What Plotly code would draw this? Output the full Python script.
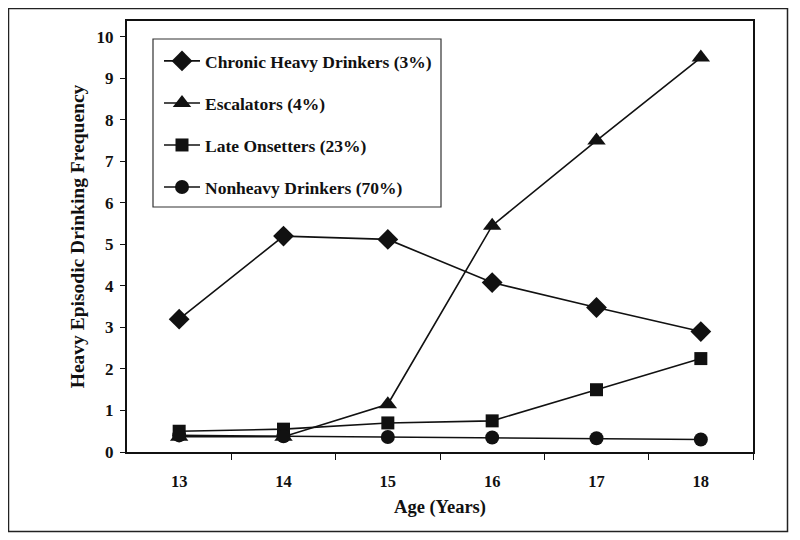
import plotly.graph_objects as go

ages = [13, 14, 15, 16, 17, 18]
chronic = [3.2, 5.2, 5.12, 4.08, 3.48, 2.9]
escalators = [0.37, 0.37, 1.15, 5.45, 7.5, 9.5]
late = [0.5, 0.55, 0.7, 0.75, 1.5, 2.25]
nonheavy = [0.4, 0.38, 0.36, 0.35, 0.33, 0.3]

names = ["Chronic Heavy Drinkers (3%)", "Escalators (4%)",
         "Late Onsetters (23%)", "Nonheavy Drinkers (70%)"]
series = [chronic, escalators, late, nonheavy]
symbols = ["diamond", "triangle-up", "square", "circle"]
sizes = [16, 16, 13, 14]

FONT = "Liberation Serif, Times New Roman, serif"
INK = "#111"

# page has an 8px body margin; figure is 792x532 placed at (8, 8)
W, H = 792, 532
L, R, T, B = 119, 47, 13, 88
PW, PH = W - L - R, H - T - B


def fx(px):  # page x -> paper fraction
    return (px - 8 - L) / PW


def fy(py):  # page y -> paper fraction
    return (H - B - (py - 8)) / PH


fig = go.Figure()
for i, (nm, ys, sym, sz) in enumerate(zip(names, series, symbols, sizes)):
    fig.add_trace(go.Scatter(
        x=ages, y=ys, name=nm, mode="lines+markers",
        line=dict(color=INK, width=1.6),
        marker=dict(symbol=sym, size=sz, color=INK),
        legendgroup=f"g{i}",
    ))

fig.update_layout(
    width=W, height=H,
    margin=dict(l=L, r=R, t=T, b=B, autoexpand=False),
    paper_bgcolor="white", plot_bgcolor="white",
    font=dict(family=FONT, size=16, color=INK, weight="bold"),
    showlegend=True,
    legend=dict(
        x=fx(159), y=fy(43), xanchor="left", yanchor="top",
        borderwidth=0, bgcolor="rgba(0,0,0,0)",
        tracegroupgap=16.3, font=dict(size=17.5, family=FONT, weight="bold"),
        itemwidth=36,
    ),
    xaxis=dict(
        range=[12.5, 18.5], tickvals=ages, ticks="",
        showline=True, linecolor=INK, linewidth=2, mirror=True,
        showgrid=False, zeroline=False,
        minor=dict(tickvals=[13.5, 14.5, 15.5, 16.5, 17.5, 18.5],
                   ticks="outside", ticklen=6, tickcolor=INK, tickwidth=1),
        ticklabelstandoff=13,
        tickfont=dict(size=16.5, family=FONT, weight="bold"),
        title=dict(text="Age (Years)", standoff=10,
                   font=dict(size=18.5, family=FONT, weight="bold")),
    ),
    yaxis=dict(
        range=[0, 10.38], tickvals=list(range(0, 11)), ticks="outside",
        ticklen=5, tickcolor=INK, ticklabelstandoff=3,
        showline=True, linecolor=INK, linewidth=2, mirror=True,
        showgrid=False, zeroline=False,
        tickfont=dict(size=17, family=FONT, weight="bold"),
        title=dict(text="Heavy Episodic Drinking Frequency", standoff=7,
                   font=dict(size=19.5, family=FONT, weight="bold")),
    ),
    shapes=[
        # outer frame
        dict(type="rect", xref="paper", yref="paper",
             x0=fx(8.5), x1=fx(787.5), y0=fy(531.5), y1=fy(8.5),
             line=dict(color="#222", width=1.5)),
        # legend frame
        dict(type="rect", xref="paper", yref="paper",
             x0=fx(153), x1=fx(441), y0=fy(207), y1=fy(39),
             line=dict(color="#333", width=1.2)),
    ],
)

fig.write_html("out.html")
